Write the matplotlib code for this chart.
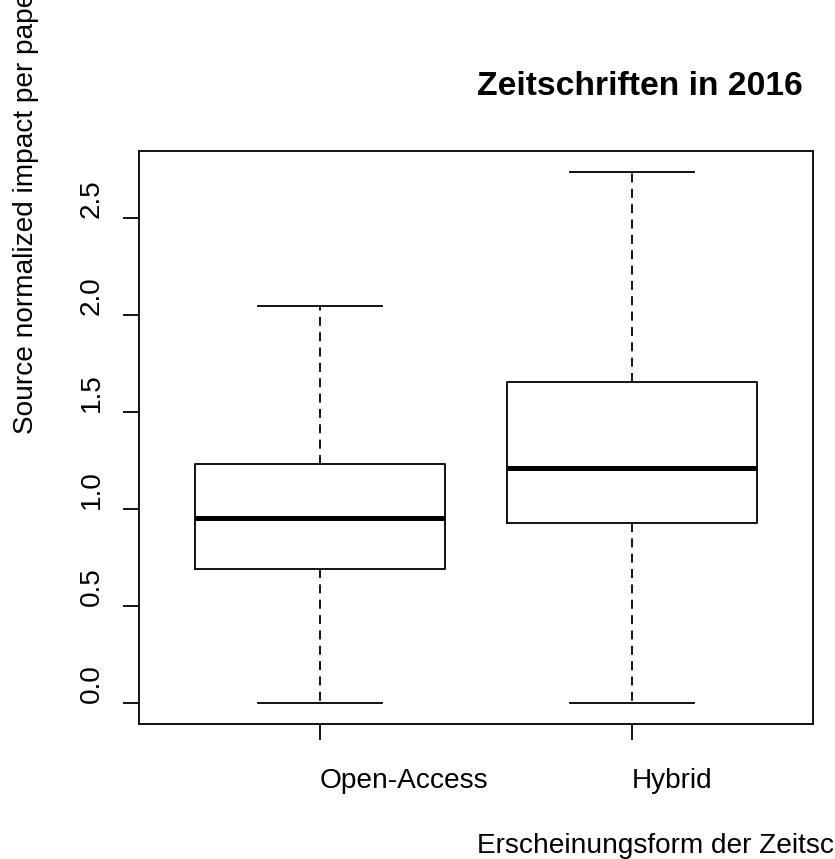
import matplotlib
matplotlib.use("Agg")
import matplotlib.pyplot as plt

plt.rcParams["font.family"] = ["Liberation Sans", "DejaVu Sans"]

# Boxplot summary values
categories = ["Open-Access", "Hybrid"]
whisker_low = [0.0, 0.0]
q1 = [0.690, 0.929]
median = [0.953, 1.213]
q3 = [1.234, 1.655]
whisker_high = [2.045, 2.737]
y_ticks = [0.0, 0.5, 1.0, 1.5, 2.0, 2.5]

W, H, DPI = 835, 859, 100
fig = plt.figure(figsize=(W / DPI, H / DPI), dpi=DPI)
ax = fig.add_axes([139 / W, 1 - 724.3 / H, (813 - 139) / W, (724.3 - 151) / H])

stats = []
for i, name in enumerate(categories):
    stats.append({
        "label": name,
        "whislo": whisker_low[i],
        "q1": q1[i],
        "med": median[i],
        "q3": q3[i],
        "whishi": whisker_high[i],
        "fliers": [],
    })

lw = 1.3
ax.bxp(
    stats,
    positions=[1, 2],
    widths=0.8,
    showfliers=False,
    boxprops=dict(color="black", linewidth=lw),
    medianprops=dict(color="black", linewidth=3.6, solid_capstyle="butt"),
    whiskerprops=dict(color="black", linewidth=lw, linestyle=(0, (5, 3.5))),
    capprops=dict(color="black", linewidth=lw),
    capwidths=0.4,
)

# R-style 4% axis extension
lo, hi = min(whisker_low), max(whisker_high)
pad = 0.04 * (hi - lo)
ax.set_ylim(lo - pad, hi + pad)
ax.set_xlim(0.42, 2.58)

for sp in ax.spines.values():
    sp.set_linewidth(lw)

fs = 20.16
ax.set_yticks(y_ticks)
ax.set_yticklabels([f"{v:.1f}" for v in y_ticks])
ax.set_xticks([1, 2])
ax.set_xticklabels(categories)
ax.tick_params(axis="both", direction="out", length=11.5, width=lw, labelsize=fs)
ax.tick_params(axis="y", pad=17.3)
ax.tick_params(axis="x", pad=20)
plt.setp(ax.get_yticklabels(), rotation=90, rotation_mode="anchor", ha="left", va="baseline")
plt.setp(ax.get_xticklabels(), ha="left", va="top")

fig.text(477 / W, 1 - 95 / H, "Zeitschriften in 2016", fontsize=24.2, fontweight="bold",
         ha="left", va="baseline")
fig.text(477 / W, 1 - 853 / H, "Erscheinungsform der Zeitschrift", fontsize=fs,
         ha="left", va="baseline")
fig.text(33 / W, 1 - 434 / H, "Source normalized impact per paper", fontsize=fs,
         rotation=90, rotation_mode="anchor", ha="left", va="baseline")

fig.savefig("out.png", dpi=DPI)
